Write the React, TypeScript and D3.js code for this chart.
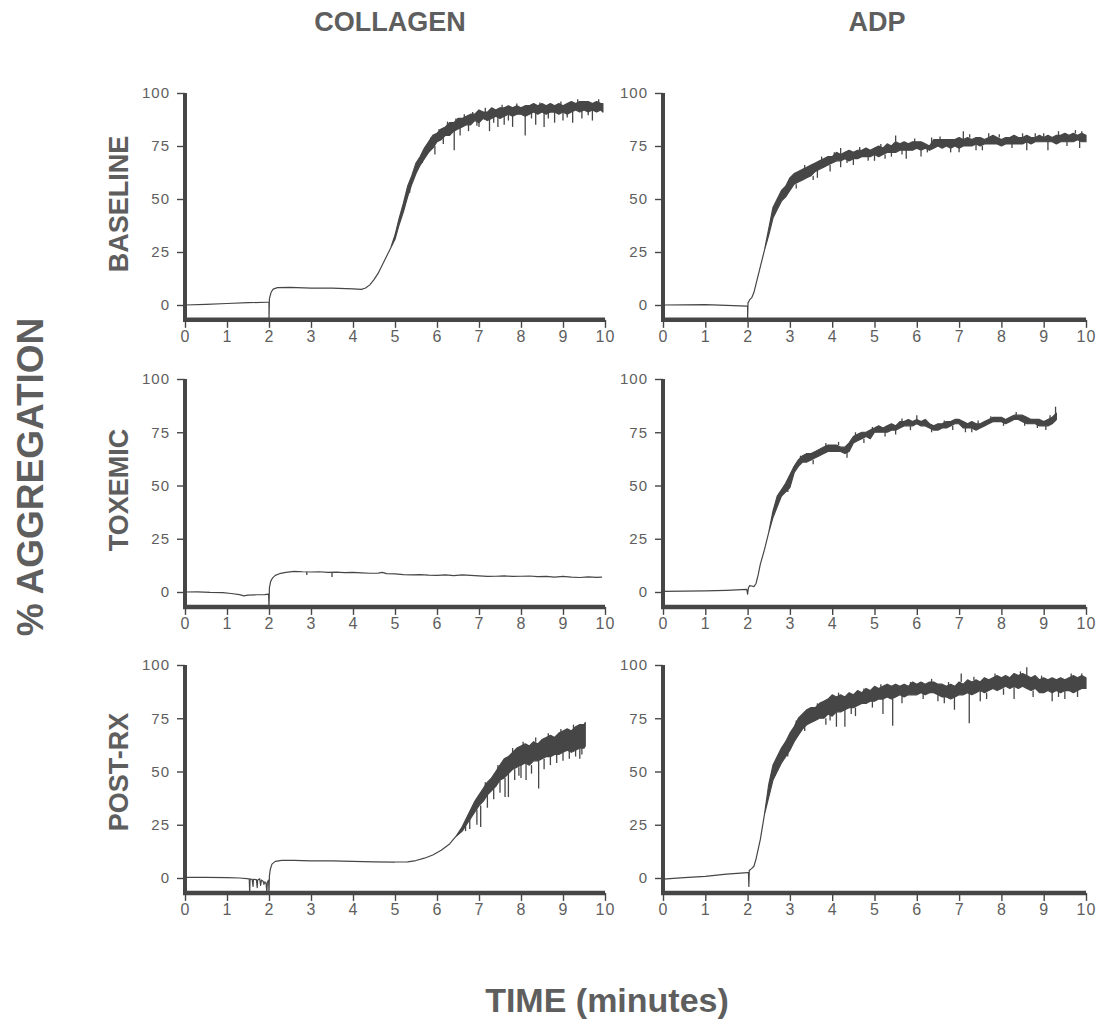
import React, { useEffect, useRef } from 'react'
import * as d3 from 'd3'

const timeTicks = [0, 1, 2, 3, 4, 5, 6, 7, 8, 9, 10]
const pctTicks = [0, 25, 50, 75, 100]
const columnTitles = ['COLLAGEN', 'ADP']
const rowTitles = ['BASELINE', 'TOXEMIC', 'POST-RX']

// thin part of each trace: [minutes, % aggregation]
// noisy part: [minutes, low, high]
// single spikes: [minutes, from, to]

const collagenBaselineLine = [
  [0, 0], [0.5, 0.3], [1, 0.7], [1.5, 1.1], [1.95, 1.3], [2.0, 1.3], [2.0, -7], [2.01, 3],
  [2.05, 6], [2.1, 7.5], [2.2, 8.2], [2.5, 8.3], [3.0, 8.0], [3.5, 8.0], [4.0, 7.6], [4.2, 7.4],
  [4.3, 8], [4.4, 9.5], [4.5, 12], [4.6, 15], [4.7, 19], [4.8, 23], [4.9, 27],
]
const collagenBaselineBand = [
  [5.0, 31, 33], [5.1, 38, 41], [5.2, 44, 48], [5.3, 51, 56], [5.4, 57, 61], [5.5, 62, 67],
  [5.6, 66, 70], [5.7, 69, 74], [5.8, 72, 77], [5.9, 74, 80], [6.0, 77, 81], [6.1, 78, 83],
  [6.2, 80, 84], [6.3, 80, 86], [6.4, 82, 86], [6.5, 83, 88], [6.6, 84, 88], [6.7, 85, 89],
  [6.8, 85, 90], [6.9, 87, 90], [7.0, 86, 92], [7.1, 88, 91], [7.2, 87, 91], [7.3, 88, 93],
  [7.4, 89, 92], [7.5, 88, 93], [7.6, 89, 93], [7.7, 90, 94], [7.8, 89, 93], [7.9, 90, 94],
  [8.0, 90, 93], [8.1, 89, 94], [8.2, 90, 94], [8.3, 91, 95], [8.4, 90, 94], [8.5, 91, 95],
  [8.6, 90, 94], [8.7, 91, 95], [8.8, 91, 94], [8.9, 90, 95], [9.0, 91, 94], [9.1, 90, 95],
  [9.2, 91, 96], [9.3, 92, 95], [9.4, 91, 96], [9.5, 92, 96], [9.6, 91, 96], [9.7, 92, 95],
  [9.8, 91, 96], [9.9, 92, 95], [9.95, 91, 95],
]
const collagenBaselineSpikes = [
  [5.95, 75, 71], [6.15, 79, 76], [6.41, 83, 73], [6.55, 84, 80], [6.75, 86, 82], [7.0, 87, 84],
  [7.25, 88, 82], [7.45, 89, 84], [7.6, 90, 85], [7.8, 90, 84], [8.1, 90, 80], [8.35, 91, 85],
  [8.55, 91, 84], [8.8, 92, 86], [9.0, 92, 87], [9.23, 92, 86], [9.45, 92, 88], [9.7, 92, 87],
  [5.35, 56, 53], [5.65, 70, 67], [5.85, 77, 79], [6.05, 81, 83], [6.25, 84, 86.5], [6.45, 86, 88],
  [6.65, 88, 90], [6.85, 89, 91], [6.95, 87, 84.5], [7.15, 91, 93], [7.35, 89, 86], [7.55, 93, 94.5],
  [7.7, 90, 87], [7.9, 93, 95], [8.25, 91, 88], [8.45, 94, 95.5], [8.65, 91, 88], [8.95, 94, 96],
  [9.1, 91, 88.5], [9.35, 95, 97], [9.6, 92, 89.5], [9.85, 95, 97],
]

const adpBaselineLine = [
  [0, 0], [0.5, 0.1], [1, 0.2], [1.5, -0.2], [1.98, -0.5], [2.0, -0.5], [2.0, -7], [2.01, 1],
  [2.05, 2.5], [2.1, 3.5], [2.15, 6], [2.2, 10], [2.3, 18], [2.4, 26],
]
const adpBaselineBand = [
  [2.5, 33, 36], [2.6, 41, 46], [2.7, 45, 50], [2.8, 49, 54], [2.9, 51, 56], [3.0, 54, 60],
  [3.1, 57, 62], [3.2, 58, 63], [3.3, 59, 64], [3.4, 60, 65], [3.5, 61, 66], [3.6, 63, 67],
  [3.7, 64, 68], [3.8, 65, 69], [3.9, 66, 70], [4.0, 67, 70], [4.1, 68, 72], [4.2, 68, 71],
  [4.3, 69, 72], [4.4, 68, 73], [4.5, 69, 72], [4.6, 69, 73], [4.7, 70, 73], [4.8, 70, 74],
  [4.9, 70, 73], [5.0, 71, 74], [5.1, 70, 75], [5.2, 71, 74], [5.3, 72, 76], [5.4, 72, 75],
  [5.5, 72, 77], [5.6, 73, 76], [5.7, 73, 77], [5.8, 73, 76], [5.9, 73, 77], [6.0, 74, 77],
  [6.1, 73, 77], [6.2, 74, 76], [6.3, 73, 75], [6.4, 74, 78], [6.5, 75, 78], [6.6, 74, 78],
  [6.7, 75, 78], [6.8, 74, 78], [6.9, 75, 78], [7.0, 74, 79], [7.1, 75, 78], [7.2, 75, 79],
  [7.3, 75, 78], [7.4, 76, 79], [7.5, 75, 79], [7.6, 76, 78], [7.7, 76, 79], [7.8, 76, 80],
  [7.9, 76, 79], [8.0, 75, 78], [8.1, 76, 79], [8.2, 76, 79], [8.3, 76, 80], [8.4, 76, 79],
  [8.5, 76, 79], [8.6, 77, 80], [8.7, 76, 79], [8.8, 77, 79], [8.9, 77, 80], [9.0, 77, 79],
  [9.1, 77, 80], [9.2, 77, 79], [9.3, 76, 80], [9.4, 77, 80], [9.5, 77, 81], [9.6, 77, 80],
  [9.7, 77, 81], [9.8, 78, 80], [9.9, 77, 81], [10.0, 77, 80],
]
const adpBaselineSpikes = [
  [3.65, 64, 60], [3.95, 66, 63], [4.2, 68, 65], [4.2, 71, 74], [4.5, 69, 66], [5.0, 71, 68],
  [5.4, 72, 70], [5.5, 77, 80], [5.75, 73, 69], [6.1, 73, 70], [6.35, 76, 79], [7.0, 74, 72],
  [7.1, 78, 82], [7.4, 76, 73], [7.7, 79, 81], [8.5, 79, 81], [8.6, 77, 73], [9.0, 79, 81],
  [9.1, 77, 73], [9.85, 78, 74], [9.9, 81, 82],
  [2.95, 56, 58], [3.15, 57, 55], [3.35, 64, 66], [3.55, 61, 59], [3.75, 68, 70], [4.05, 70, 72],
  [4.35, 69, 67], [4.65, 72, 74.5], [4.85, 70, 68], [5.15, 74, 76], [5.25, 71, 69], [5.65, 73, 71],
  [5.95, 77, 78.5], [6.25, 74, 72], [6.55, 78, 79.5], [6.8, 74, 72], [7.25, 79, 80.5], [7.55, 75, 73],
  [7.95, 79, 80.5], [8.25, 76, 74], [8.8, 79, 81], [9.35, 80, 82], [9.55, 77, 75], [9.75, 81, 82.5],
]

const collagenToxemicLine = [
  [0, 0], [0.3, 0.1], [0.6, -0.2], [0.9, -0.3], [1.1, -0.7], [1.3, -1.2], [1.4, -1.8], [1.5, -1.5],
  [1.7, -1.3], [1.9, -1.2], [1.99, -1.0], [2.0, -7], [2.01, 2], [2.04, 5], [2.08, 6.5], [2.15, 7.8],
  [2.25, 8.6], [2.4, 9.2], [2.6, 9.7], [2.8, 9.5], [3.0, 9.4], [3.2, 9.5], [3.4, 9.2], [3.6, 9.3],
  [3.8, 9.1], [4.0, 9.2], [4.2, 9.0], [4.4, 8.8], [4.6, 8.9], [4.7, 9.2], [4.8, 8.6], [5.0, 8.5],
  [5.2, 8.2], [5.4, 8.0], [5.6, 8.2], [5.8, 7.9], [6.0, 7.8], [6.2, 8.0], [6.4, 7.7], [6.6, 8.0],
  [6.8, 7.8], [7.0, 7.6], [7.2, 7.3], [7.4, 7.4], [7.6, 7.6], [7.8, 7.3], [8.0, 7.4], [8.2, 7.5],
  [8.4, 7.2], [8.6, 7.3], [8.8, 7.0], [9.0, 7.3], [9.2, 7.0], [9.4, 6.8], [9.6, 7.1], [9.8, 6.9],
  [9.92, 7.0],
]
const collagenToxemicBand: number[][] = []
const collagenToxemicSpikes = [[2.9, 9.5, 8.0], [3.5, 9.3, 7.0]]

const adpToxemicLine = [
  [0, 0.3], [0.5, 0.4], [1, 0.5], [1.5, 0.8], [1.98, 1.2], [2.0, -1], [2.02, 2], [2.05, 3],
  [2.1, 2.8], [2.15, 2.5], [2.2, 4], [2.25, 8], [2.3, 13], [2.4, 20], [2.5, 28],
]
const adpToxemicBand = [
  [2.6, 35, 38], [2.7, 40, 45], [2.8, 45, 48], [2.9, 47, 51], [3.0, 49, 55], [3.1, 56, 59],
  [3.2, 59, 62], [3.3, 61, 64], [3.4, 61, 65], [3.5, 62, 65], [3.6, 63, 66], [3.7, 64, 67],
  [3.8, 65, 68], [3.9, 66, 69], [4.0, 66, 69], [4.1, 66, 69], [4.2, 66, 68], [4.3, 65, 68],
  [4.4, 66, 70], [4.5, 70, 73], [4.6, 71, 74], [4.7, 72, 75], [4.8, 73, 75], [4.9, 72, 76],
  [5.0, 75, 77], [5.1, 75, 78], [5.2, 75, 77], [5.3, 75, 78], [5.4, 76, 79], [5.5, 76, 78],
  [5.6, 77, 80], [5.7, 78, 80], [5.8, 78, 81], [5.9, 78, 80], [6.0, 79, 81], [6.1, 78, 80],
  [6.2, 78, 81], [6.3, 77, 79], [6.4, 76, 78], [6.5, 76, 79], [6.6, 77, 79], [6.7, 77, 80],
  [6.8, 78, 80], [6.9, 79, 81], [7.0, 79, 81], [7.1, 77, 80], [7.2, 77, 79], [7.3, 77, 80],
  [7.4, 76, 79], [7.5, 77, 79], [7.6, 78, 80], [7.7, 79, 81], [7.8, 80, 82], [7.9, 80, 82],
  [8.0, 80, 82], [8.1, 79, 81], [8.2, 80, 82], [8.3, 81, 83], [8.4, 81, 83], [8.5, 80, 83],
  [8.6, 79, 82], [8.7, 79, 81], [8.8, 79, 81], [8.9, 78, 81], [9.0, 78, 80], [9.1, 78, 81],
  [9.2, 79, 82], [9.3, 81, 84],
]
const adpToxemicSpikes = [
  [4.35, 66, 63], [5.5, 76, 74], [6.0, 81, 83], [7.15, 77, 75], [9.05, 78, 76], [9.28, 83, 87],
  [2.95, 50, 47], [3.25, 62, 64], [3.55, 62, 60], [3.85, 68, 70], [4.15, 69, 70.5], [4.55, 73, 75],
  [4.75, 72, 70], [4.95, 76, 77.5], [5.25, 75, 73], [5.65, 80, 81.5], [5.85, 78, 76], [6.35, 77, 75],
  [6.65, 79, 80.5], [6.85, 78, 76], [7.3, 77, 75], [7.45, 79, 80.5], [7.75, 81, 82.5], [8.05, 80, 78],
  [8.35, 83, 84.5], [8.55, 80, 78], [8.85, 79, 77], [9.15, 81, 83],
]

const collagenPostLine = [
  [0, 0.3], [0.5, 0.3], [1, 0.2], [1.3, 0], [1.53, -0.4], [1.54, -7], [1.55, -0.5], [1.6, -0.6],
  [1.62, -4], [1.63, -0.6], [1.7, -0.8], [1.72, -4.5], [1.73, -0.9], [1.78, -0.4], [1.8, -3.5],
  [1.82, -1.0], [1.86, -1.5], [1.88, -3], [1.9, -1.8], [1.93, -2.5], [1.95, -7], [1.96, -2],
  [1.99, -1], [2.0, -7], [2.01, 1], [2.03, 4], [2.07, 6.5], [2.15, 7.8], [2.3, 8.3], [2.6, 8.3],
  [3, 8.0], [3.5, 8.0], [4, 7.8], [4.5, 7.6], [5, 7.5], [5.3, 7.6], [5.5, 8.2], [5.7, 9.3],
  [5.9, 10.8], [6.1, 13], [6.3, 16], [6.45, 19.5],
]
const collagenPostBand = [
  [6.6, 22, 24], [6.7, 25, 28], [6.8, 28, 32], [6.9, 31, 36], [7.0, 34, 39], [7.1, 36, 42],
  [7.2, 39, 45], [7.3, 41, 47], [7.4, 43, 50], [7.5, 46, 53], [7.6, 47, 56], [7.7, 49, 57],
  [7.8, 51, 59], [7.9, 52, 61], [8.0, 53, 62], [8.1, 54, 63], [8.2, 53, 62], [8.3, 55, 64],
  [8.4, 55, 63], [8.5, 56, 65], [8.6, 57, 66], [8.7, 57, 67], [8.8, 58, 66], [8.9, 58, 68],
  [9.0, 59, 69], [9.1, 60, 70], [9.2, 59, 69], [9.3, 60, 71], [9.4, 61, 72], [9.5, 61, 72],
  [9.53, 62, 73],
]
const collagenPostSpikes = [
  [6.68, 25, 22], [6.78, 28, 23], [6.95, 32, 25], [7.04, 34, 24], [7.2, 39, 33], [7.35, 42, 37],
  [7.5, 46, 40], [7.62, 47, 38], [7.7, 49, 38], [7.85, 51, 46], [8.0, 53, 47], [8.12, 54, 46],
  [8.25, 53, 49], [8.42, 55, 42], [8.55, 56, 51], [8.7, 57, 53], [8.85, 58, 54], [9.0, 59, 55],
  [9.15, 60, 56], [9.3, 60, 57], [9.45, 61, 58],
  [7.15, 42, 45], [7.45, 50, 53], [7.8, 59, 61], [8.05, 62, 64], [8.35, 64, 66], [8.65, 66, 68],
  [8.95, 68, 70], [9.25, 70, 72], [9.4, 61, 56], [7.95, 52, 48],
]

const adpPostLine = [
  [0, -0.5], [0.5, 0.2], [1, 0.8], [1.5, 1.8], [2.0, 2.5], [2.02, 2.5], [2.03, -4], [2.04, 3.5],
  [2.1, 4.5], [2.15, 5.5], [2.2, 9], [2.3, 18], [2.4, 30],
]
const adpPostBand = [
  [2.5, 38, 44], [2.6, 46, 53], [2.7, 50, 57], [2.8, 54, 61], [2.9, 57, 64], [3.0, 60, 68],
  [3.1, 64, 71], [3.2, 67, 75], [3.3, 70, 77], [3.4, 72, 79], [3.5, 73, 80], [3.6, 74, 80],
  [3.7, 75, 82], [3.8, 75, 83], [3.9, 77, 84], [4.0, 76, 86], [4.1, 78, 85], [4.2, 78, 86],
  [4.3, 79, 85], [4.4, 80, 87], [4.5, 80, 86], [4.6, 81, 88], [4.7, 82, 87], [4.8, 82, 89],
  [4.9, 83, 88], [5.0, 83, 90], [5.1, 84, 89], [5.2, 84, 90], [5.3, 85, 91], [5.4, 84, 90],
  [5.5, 85, 91], [5.6, 86, 90], [5.7, 85, 91], [5.8, 86, 90], [5.9, 86, 92], [6.0, 86, 91],
  [6.1, 87, 92], [6.2, 86, 91], [6.3, 87, 92], [6.4, 87, 92], [6.5, 86, 91], [6.6, 85, 91],
  [6.7, 85, 90], [6.8, 84, 91], [6.9, 85, 90], [7.0, 86, 92], [7.1, 86, 91], [7.2, 87, 93],
  [7.3, 86, 92], [7.4, 87, 93], [7.5, 88, 92], [7.6, 87, 94], [7.7, 88, 93], [7.8, 89, 94],
  [7.9, 88, 95], [8.0, 89, 94], [8.1, 90, 95], [8.2, 89, 94], [8.3, 90, 96], [8.4, 89, 95],
  [8.5, 90, 96], [8.6, 89, 95], [8.7, 88, 94], [8.8, 89, 95], [8.9, 87, 93], [9.0, 87, 94],
  [9.1, 88, 93], [9.2, 87, 94], [9.3, 88, 93], [9.4, 87, 94], [9.5, 88, 93], [9.6, 88, 94],
  [9.7, 87, 95], [9.8, 88, 94], [9.9, 89, 95], [10.0, 89, 94],
]
const adpPostSpikes = [
  [3.85, 75, 72], [4.1, 78, 71], [4.3, 79, 71], [4.55, 80, 76], [5.2, 84, 77], [5.43, 84, 71.5],
  [6.5, 86, 83], [6.89, 85, 79], [7.05, 92, 96], [7.24, 87, 72.6], [7.5, 88, 83], [8.3, 90, 84],
  [8.6, 95, 99], [9.2, 87, 83], [9.5, 88, 84], [9.9, 95, 96],
  [2.65, 52, 48], [2.95, 60, 57], [3.15, 71, 74], [3.35, 72, 69], [3.65, 80, 82], [3.95, 77, 74],
  [4.15, 85, 87], [4.45, 80, 77], [4.75, 87, 89], [4.95, 83, 80], [5.15, 89, 91], [5.65, 86, 82],
  [5.85, 90, 92], [6.15, 87, 84], [6.35, 92, 93.5], [6.65, 85, 82], [6.75, 90, 92], [7.35, 93, 94.5],
  [7.65, 87, 84], [7.85, 94, 96], [8.05, 89, 86], [8.45, 95, 97], [8.75, 88, 85], [8.95, 93, 95],
  [9.35, 88, 85], [9.65, 94, 96], [9.8, 88, 85],
]

const panels = [
  { row: 0, col: 0, line: collagenBaselineLine, band: collagenBaselineBand, spikes: collagenBaselineSpikes },
  { row: 0, col: 1, line: adpBaselineLine, band: adpBaselineBand, spikes: adpBaselineSpikes },
  { row: 1, col: 0, line: collagenToxemicLine, band: collagenToxemicBand, spikes: collagenToxemicSpikes },
  { row: 1, col: 1, line: adpToxemicLine, band: adpToxemicBand, spikes: adpToxemicSpikes },
  { row: 2, col: 0, line: collagenPostLine, band: collagenPostBand, spikes: collagenPostSpikes },
  { row: 2, col: 1, line: adpPostLine, band: adpPostBand, spikes: adpPostSpikes },
]

// layout in pixels
const cols = [{ x0: 185, x1: 605, title: 390 }, { x0: 663, x1: 1086, title: 877 }]
const rows = [{ y0: 305, y1: 93, label: 204 }, { y0: 592, y1: 379, label: 490 }, { y0: 878, y1: 665, label: 772 }]
const axisFloor = -7

const ink = '#464646'
const textInk = '#5e5e5e'
const font = '"Liberation Sans", Arial, Helvetica, sans-serif'

const App = () => {
  const svgRef = useRef<SVGSVGElement>(null)

  useEffect(() => {
    const svg = d3.select(svgRef.current)
    svg.selectAll('*').remove()

    svg.append('rect').attr('width', 1104).attr('height', 1020).attr('fill', '#fff')

    // column titles
    svg.selectAll('text.coltitle')
      .data(columnTitles)
      .join('text')
      .attr('class', 'coltitle')
      .attr('x', (d, i) => cols[i].title)
      .attr('y', 31)
      .attr('text-anchor', 'middle')
      .style('font-family', font)
      .style('font-weight', 'bold')
      .style('font-size', '27px')
      .attr('fill', textInk)
      .text(d => d)

    // row labels
    svg.selectAll('text.rowtitle')
      .data(rowTitles)
      .join('text')
      .attr('class', 'rowtitle')
      .attr('transform', (d, i) => `translate(128,${rows[i].label}) rotate(-90)`)
      .attr('text-anchor', 'middle')
      .style('font-family', font)
      .style('font-weight', 'bold')
      .style('font-size', '27px')
      .attr('fill', textInk)
      .text(d => d)

    svg.append('text')
      .attr('transform', 'translate(43,477) rotate(-90)')
      .attr('text-anchor', 'middle')
      .style('font-family', font)
      .style('font-weight', 'bold')
      .style('font-size', '37px')
      .attr('fill', textInk)
      .text('% AGGREGATION')

    svg.append('text')
      .attr('x', 607)
      .attr('y', 1012)
      .attr('text-anchor', 'middle')
      .style('font-family', font)
      .style('font-weight', 'bold')
      .style('font-size', '34px')
      .attr('fill', textInk)
      .text('TIME (minutes)')

    panels.forEach(p => {
      const c = cols[p.col]
      const r = rows[p.row]
      const x = d3.scaleLinear().domain([0, 10]).range([c.x0, c.x1])
      const y = d3.scaleLinear().domain([0, 100]).range([r.y0, r.y1])
      const g = svg.append('g')

      //axes
      const xa = g.append('g')
        .attr('transform', `translate(0,${y(axisFloor)})`)
        .call(d3.axisBottom(x).tickValues(timeTicks).tickSize(8).tickPadding(3).tickFormat(d3.format('d')))
      const ya = g.append('g')
        .attr('transform', `translate(${x(0)},0)`)
        .call(d3.axisLeft(y).tickValues(pctTicks).tickSize(8).tickPadding(7).tickFormat(d3.format('d')))
      ;[xa, ya].forEach(a => {
        a.select('.domain').remove()
        a.selectAll('line').attr('stroke', ink).attr('stroke-width', 1.4)
        a.selectAll('text')
          .attr('fill', textInk)
          .style('font-family', font)
          .style('letter-spacing', '1px')
      })
      xa.selectAll('text').style('font-size', '16px')
      ya.selectAll('text').style('font-size', '15px')

      g.append('line')
        .attr('x1', x(0)).attr('x2', x(0))
        .attr('y1', y(100)).attr('y2', y(axisFloor) + 2)
        .attr('stroke', ink).attr('stroke-width', 4)
      g.append('line')
        .attr('x1', x(0) - 2).attr('x2', x(10))
        .attr('y1', y(axisFloor)).attr('y2', y(axisFloor))
        .attr('stroke', ink).attr('stroke-width', 4.5)

      //trace: thin part has low == high
      const pts = [...p.line.map(d => [d[0], d[1], d[1]]), ...p.band]
      const area = d3.area<number[]>()
        .x(d => x(d[0]))
        .y0(d => y(d[1]))
        .y1(d => y(d[2]))
      g.append('path')
        .attr('d', area(pts))
        .attr('fill', ink)
        .attr('stroke', ink)
        .attr('stroke-width', 1.2)
        .attr('stroke-linejoin', 'round')

      g.selectAll('line.spike')
        .data(p.spikes)
        .join('line')
        .attr('class', 'spike')
        .attr('x1', d => x(d[0])).attr('x2', d => x(d[0]))
        .attr('y1', d => y(d[1])).attr('y2', d => y(d[2]))
        .attr('stroke', ink)
        .attr('stroke-width', 1.3)
    })
  }, [])

  return (
    <svg ref={svgRef} width={1104} height={1020} style={{ position: 'absolute', left: 0, top: 0 }} />
  )
}

export default App
